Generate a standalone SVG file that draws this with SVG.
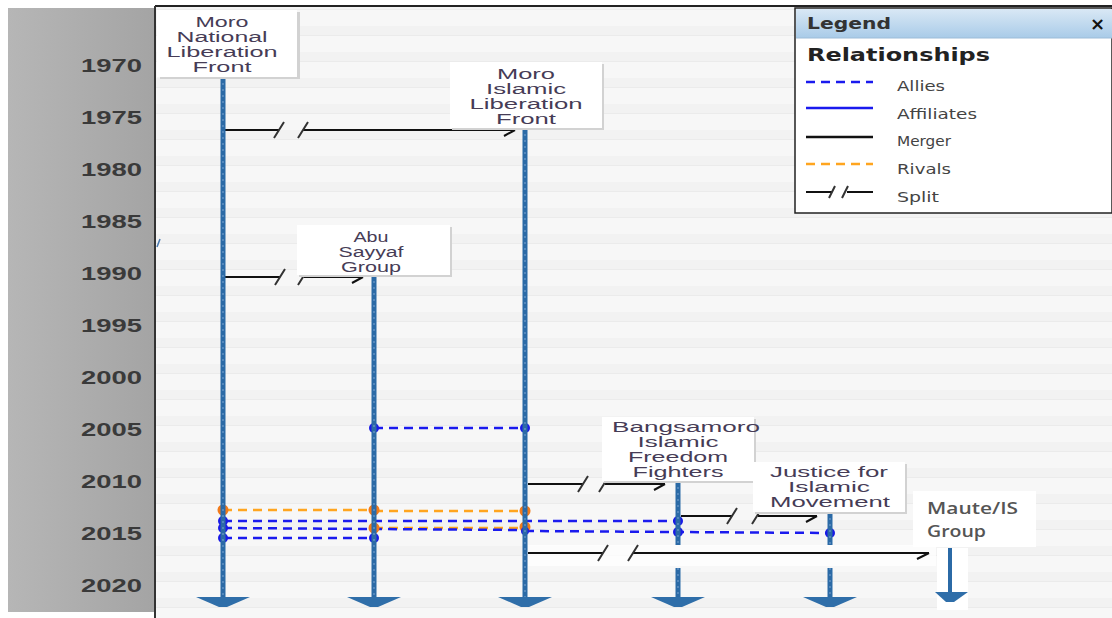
<svg xmlns="http://www.w3.org/2000/svg" width="1112" height="618" viewBox="0 0 1112 618">
<defs>
<linearGradient id="panel" x1="0" y1="0" x2="1" y2="0"><stop offset="0" stop-color="#b6b6b6"/><stop offset="1" stop-color="#a4a4a4"/></linearGradient>
<linearGradient id="hdr" x1="0" y1="0" x2="0" y2="1"><stop offset="0" stop-color="#d9e8f5"/><stop offset="1" stop-color="#a9cbe8"/></linearGradient>
<pattern id="stripes" width="40" height="26" patternUnits="userSpaceOnUse"><rect width="40" height="26" fill="#f7f7f7"/><rect y="0" width="40" height="9" fill="#f2f2f2"/><rect y="9" width="40" height="1" fill="#ebebeb"/></pattern>
<style>
.yr{font-family:"Liberation Sans",Arial,sans-serif;font-weight:bold;font-size:19px;fill:#3a3a3a;text-anchor:end}
.nt{font-family:"Liberation Sans",Arial,sans-serif;font-size:15.5px;fill:#463c56;text-anchor:middle}
.box{fill:#ffffff}
.shadow{fill:#d2d2d2}
.tl{stroke:#2b6aa6;stroke-width:5;fill:none}
.tlx{stroke:#6f9ccb;stroke-width:1.2;stroke-dasharray:2 4;fill:none}
.ah{fill:#2f6ea9}
.allies{stroke:#1a1aee;stroke-width:2.5;stroke-dasharray:9 6;fill:none}
.rivals{stroke:#ffa51f;stroke-width:2.5;stroke-dasharray:9 6;fill:none}
.bd{fill:#1a1ae6}
.od{fill:#f27a1a}
.split{stroke:#111;stroke-width:2;fill:none}
.tick{stroke:#333;stroke-width:2;fill:none}
.lg{font-family:"DejaVu Sans",Verdana,sans-serif;font-size:14px;fill:#444}
</style>
</defs>
<rect width="1112" height="618" fill="#ffffff"/>
<rect x="8" y="8" width="147" height="604" fill="url(#panel)"/>
<rect x="156" y="7" width="956" height="611" fill="url(#stripes)"/>
<line x1="155" y1="6" x2="1112" y2="6" stroke="#222" stroke-width="2"/>
<line x1="155" y1="6" x2="155" y2="618" stroke="#333" stroke-width="2"/>
<line x1="157" y1="247" x2="160" y2="239" stroke="#4a7ab0" stroke-width="1.5"/>
<g id="years">
<text class="yr" x="142" y="72" textLength="61" lengthAdjust="spacingAndGlyphs">1970</text>
<text class="yr" x="142" y="124" textLength="61" lengthAdjust="spacingAndGlyphs">1975</text>
<text class="yr" x="142" y="176" textLength="61" lengthAdjust="spacingAndGlyphs">1980</text>
<text class="yr" x="142" y="228" textLength="61" lengthAdjust="spacingAndGlyphs">1985</text>
<text class="yr" x="142" y="280" textLength="61" lengthAdjust="spacingAndGlyphs">1990</text>
<text class="yr" x="142" y="332" textLength="61" lengthAdjust="spacingAndGlyphs">1995</text>
<text class="yr" x="142" y="384" textLength="61" lengthAdjust="spacingAndGlyphs">2000</text>
<text class="yr" x="142" y="436" textLength="61" lengthAdjust="spacingAndGlyphs">2005</text>
<text class="yr" x="142" y="488" textLength="61" lengthAdjust="spacingAndGlyphs">2010</text>
<text class="yr" x="142" y="540" textLength="61" lengthAdjust="spacingAndGlyphs">2015</text>
<text class="yr" x="142" y="592" textLength="61" lengthAdjust="spacingAndGlyphs">2020</text>
</g>
<g id="connectors">
<line class="allies" x1="374" y1="428" x2="525" y2="428"/>
<circle class="bd" cx="374" cy="428" r="5"/><circle class="bd" cx="525" cy="428" r="5"/>
<line class="rivals" x1="223" y1="510" x2="374" y2="510" stroke-dasharray="12 6" stroke-width="3"/>
<line class="rivals" x1="374" y1="511" x2="525" y2="511"/>
<line class="rivals" x1="374" y1="528" x2="525" y2="528"/>
<line class="allies" x1="223" y1="521" x2="678" y2="521"/>
<line class="allies" x1="223" y1="528" x2="525" y2="530"/>
<line class="allies" x1="525" y1="531" x2="830" y2="533"/>
<line class="allies" x1="223" y1="538" x2="374" y2="538"/>
<circle class="od" cx="223" cy="510" r="5.5"/><circle class="od" cx="374" cy="510" r="5.5"/><circle class="od" cx="525" cy="511" r="5.5"/>
<circle class="od" cx="374" cy="528" r="5.5"/><circle class="od" cx="525" cy="527" r="5.5"/>
<circle class="bd" cx="223" cy="521" r="5"/><circle class="bd" cx="223" cy="528" r="5"/><circle class="bd" cx="223" cy="538" r="5"/>
<circle class="bd" cx="374" cy="538" r="5"/><circle class="bd" cx="525" cy="531" r="4"/>
<circle class="bd" cx="678" cy="521" r="5"/><circle class="bd" cx="678" cy="532" r="5"/><circle class="bd" cx="830" cy="533" r="5"/>
<path class="split" d="M225 130H279M303 130H515M504 136L515 130"/>
<path class="tick" d="M274 138L284 122M298 138L308 122"/>
<path class="split" d="M225 277H280M304 277H363M352 283L363 277"/>
<path class="tick" d="M275 285L285 269M298 285L308 269"/>
<path class="split" d="M528 484H583M605 484H665M654 490L665 484"/>
<path class="tick" d="M578 492L588 476M599 492L609 476"/>
<path class="split" d="M681 516H732M758 516H817M806 522L817 516"/>
<path class="tick" d="M727 524L737 508M752 524L762 508"/>
<rect x="528" y="545" width="408" height="21" fill="#ffffff" opacity="0.75"/>
<path class="split" d="M528 553H603M633 553H929M917 559L929 553"/>
<path class="tick" d="M598 561L608 545M628 561L638 545"/>
</g>
<g id="mnlf">
<line class="tl" x1="223" y1="77" x2="223" y2="600"/><line class="tlx" x1="223" y1="77" x2="223" y2="600"/>
<polygon class="ah" points="196,597 250,597 227,607 219,607"/>
<rect class="shadow" x="160" y="12" width="140" height="67"/>
<rect class="box" x="157" y="10" width="140" height="67"/>
<text class="nt" x="222" y="27" textLength="53" lengthAdjust="spacingAndGlyphs">Moro</text>
<text class="nt" x="222" y="42" textLength="91" lengthAdjust="spacingAndGlyphs">National</text>
<text class="nt" x="222" y="57" textLength="111" lengthAdjust="spacingAndGlyphs">Liberation</text>
<text class="nt" x="222" y="72" textLength="59" lengthAdjust="spacingAndGlyphs">Front</text>
</g>
<g id="milf">
<line class="tl" x1="525" y1="128" x2="525" y2="600"/><line class="tlx" x1="525" y1="128" x2="525" y2="600"/>
<polygon class="ah" points="498,597 552,597 529,607 521,607"/>
<rect class="shadow" x="452" y="64" width="152" height="66"/>
<rect class="box" x="450" y="62" width="152" height="66"/>
<text class="nt" x="526" y="79" textLength="58" lengthAdjust="spacingAndGlyphs">Moro</text>
<text class="nt" x="526" y="94" textLength="80" lengthAdjust="spacingAndGlyphs">Islamic</text>
<text class="nt" x="526" y="109" textLength="113" lengthAdjust="spacingAndGlyphs">Liberation</text>
<text class="nt" x="526" y="124" textLength="60" lengthAdjust="spacingAndGlyphs">Front</text>
</g>
<g id="asg">
<line class="tl" x1="374" y1="275" x2="374" y2="600"/><line class="tlx" x1="374" y1="275" x2="374" y2="600"/>
<polygon class="ah" points="347,597 401,597 378,607 370,607"/>
<rect class="shadow" x="299" y="227" width="153" height="50"/>
<rect class="box" x="297" y="225" width="153" height="50"/>
<text class="nt" x="371" y="242" textLength="35" lengthAdjust="spacingAndGlyphs">Abu</text>
<text class="nt" x="371" y="257" textLength="65" lengthAdjust="spacingAndGlyphs">Sayyaf</text>
<text class="nt" x="371" y="272" textLength="60" lengthAdjust="spacingAndGlyphs">Group</text>
</g>
<g id="biff">
<line class="tl" x1="678" y1="481" x2="678" y2="545"/><line class="tlx" x1="678" y1="481" x2="678" y2="545"/>
<line class="tl" x1="678" y1="568" x2="678" y2="600"/><line class="tlx" x1="678" y1="568" x2="678" y2="600"/>
<polygon class="ah" points="651,597 705,597 682,607 674,607"/>
<rect class="shadow" x="604" y="419" width="152" height="64"/>
<rect class="box" x="602" y="417" width="152" height="64"/>
<text class="nt" x="686" y="432" textLength="148" lengthAdjust="spacingAndGlyphs">Bangsamoro</text>
<text class="nt" x="678" y="447" textLength="81" lengthAdjust="spacingAndGlyphs">Islamic</text>
<text class="nt" x="678" y="462" textLength="100" lengthAdjust="spacingAndGlyphs">Freedom</text>
<text class="nt" x="678" y="477" textLength="91" lengthAdjust="spacingAndGlyphs">Fighters</text>
</g>
<g id="jim">
<line class="tl" x1="830" y1="512" x2="830" y2="545"/><line class="tlx" x1="830" y1="512" x2="830" y2="545"/>
<line class="tl" x1="830" y1="568" x2="830" y2="600"/><line class="tlx" x1="830" y1="568" x2="830" y2="600"/>
<polygon class="ah" points="803,597 857,597 834,607 826,607"/>
<rect class="shadow" x="755" y="464" width="152" height="50"/>
<rect class="box" x="753" y="462" width="152" height="50"/>
<text class="nt" x="829" y="477" textLength="118" lengthAdjust="spacingAndGlyphs">Justice for</text>
<text class="nt" x="829" y="492" textLength="82" lengthAdjust="spacingAndGlyphs">Islamic</text>
<text class="nt" x="830" y="507" textLength="120" lengthAdjust="spacingAndGlyphs">Movement</text>
</g>
<g id="maute">
<rect x="937" y="548" width="31" height="62" fill="#ffffff"/>
<line x1="950" y1="548" x2="950" y2="595" stroke="#2b6aa6" stroke-width="4"/>
<polygon class="ah" points="935,592 968,592 954,602 946,602"/>
<rect class="box" x="913" y="491" width="123" height="56"/>
<text x="927" y="514" font-family="'Open Sans','Liberation Sans',sans-serif" font-weight="600" font-size="16" fill="#555" textLength="91" lengthAdjust="spacingAndGlyphs">Maute/IS</text>
<text x="927" y="537" font-family="'Open Sans','Liberation Sans',sans-serif" font-weight="600" font-size="16" fill="#555" textLength="59" lengthAdjust="spacingAndGlyphs">Group</text>
</g>
<g id="legend">
<rect x="795" y="8" width="317" height="205" fill="#ffffff" stroke="#222" stroke-width="1.5"/>
<rect x="796" y="9" width="316" height="29" fill="url(#hdr)"/>
<line x1="796" y1="38" x2="1112" y2="38" stroke="#9dbcd8" stroke-width="1"/>
<text x="807" y="29" font-family="'DejaVu Sans',Verdana,sans-serif" font-weight="bold" font-size="15" fill="#333" textLength="84" lengthAdjust="spacingAndGlyphs">Legend</text>
<text x="1090" y="30" font-family="'DejaVu Sans',Verdana,sans-serif" font-weight="bold" font-size="18" fill="#111">×</text>
<text x="807" y="61" font-family="'DejaVu Sans',Verdana,sans-serif" font-weight="bold" font-size="18" fill="#222" textLength="183" lengthAdjust="spacingAndGlyphs">Relationships</text>
<line class="allies" x1="806" y1="82" x2="873" y2="82" stroke-dasharray="8 5"/>
<line x1="806" y1="108" x2="873" y2="108" stroke="#1a1aee" stroke-width="2.5"/>
<line x1="806" y1="137" x2="873" y2="137" stroke="#111" stroke-width="2.5"/>
<line class="rivals" x1="806" y1="164" x2="873" y2="164" stroke-dasharray="8 5"/>
<path class="split" d="M806 192H832M847 192H873"/>
<path class="tick" d="M829 198L835 186M842 198L848 186"/>
<text class="lg" x="897" y="91" textLength="48" lengthAdjust="spacingAndGlyphs">Allies</text>
<text class="lg" x="897" y="119" textLength="80" lengthAdjust="spacingAndGlyphs">Affiliates</text>
<text class="lg" x="897" y="146" textLength="54" lengthAdjust="spacingAndGlyphs">Merger</text>
<text class="lg" x="897" y="174" textLength="54" lengthAdjust="spacingAndGlyphs">Rivals</text>
<text class="lg" x="897" y="202" textLength="42" lengthAdjust="spacingAndGlyphs">Split</text>
</g>
</svg>
